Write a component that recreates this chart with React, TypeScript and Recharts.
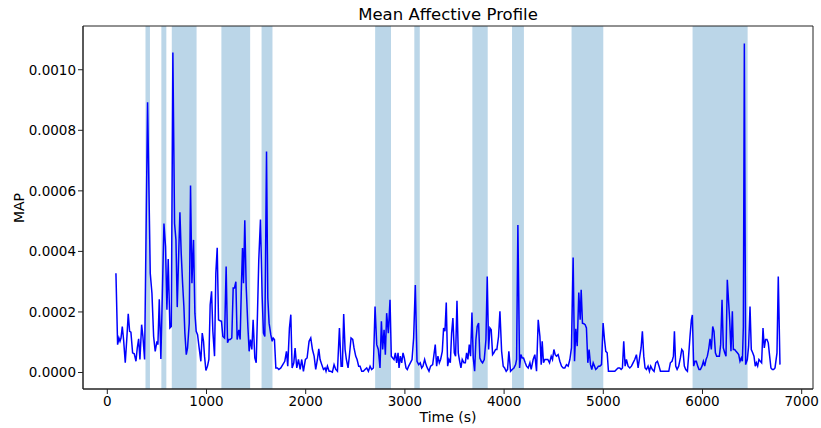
import { LineChart, Line, XAxis, YAxis, ReferenceArea } from 'recharts'

// shaded intervals [start, end] in seconds
const bands: [number, number][] = [
  [385, 430], [545, 595], [650, 900], [1150, 1440], [1555, 1665],
  [2700, 2860], [3095, 3150], [3680, 3835], [4080, 4200], [4680, 5000], [5900, 6455],
]

// [time (s), MAP x 1e-4]
const mapSamples: [number, number][] = [
  [87,3.28],[104,0.92],[117,1.14],[128,1.03],[138,1.14],[151,1.52],[164,1.09],[181,0.32],[198,1.19],[211,1.94],[225,1.36],[238,1.33],[255,0.65],[272,0.62],[289,0.37],[302,0.81],[316,1.11],[329,0.43],[346,1.58],[359,1.19],[376,0.43],[406,8.93],[433,3.28],[450,2.62],[467,1.19],[483,0.70],[500,1.03],[510,0.92],[524,2.42],[540,0.45],[571,4.92],[587,4.16],[601,2.07],[614,3.75],[631,1.47],[645,1.52],[661,10.57],[678,4.92],[692,4.38],[705,2.16],[718,3.72],[732,5.29],[745,3.94],[759,2.95],[772,2.18],[782,1.30],[796,0.59],[809,0.81],[826,1.63],[839,6.18],[853,2.95],[869,4.38],[883,1.96],[896,1.36],[910,1.25],[926,0.81],[943,0.37],[957,1.30],[970,1.03],[980,0.54],[994,0.07],[1010,0.21],[1024,0.43],[1037,2.24],[1051,2.68],[1064,1.36],[1081,0.54],[1094,3.28],[1108,4.12],[1121,1.74],[1138,1.71],[1151,1.69],[1165,1.19],[1182,1.14],[1198,3.50],[1212,0.98],[1225,1.09],[1239,1.09],[1255,1.14],[1269,2.79],[1282,2.79],[1296,3.0],[1309,1.09],[1326,1.41],[1339,1.09],[1353,3.0],[1363,4.11],[1373,2.95],[1386,5.03],[1400,2.84],[1417,1.52],[1430,0.70],[1443,1.09],[1457,0.76],[1470,1.74],[1487,0.48],[1501,0.32],[1514,1.96],[1527,3.72],[1544,5.05],[1561,2.51],[1574,1.30],[1588,1.19],[1605,7.30],[1618,2.46],[1631,1.63],[1648,1.25],[1662,1.03],[1672,1.14],[1685,1.09],[1699,0.15],[1715,0.15],[1729,0.10],[1749,0.15],[1769,0.26],[1789,0.37],[1806,0.70],[1819,0.21],[1836,1.47],[1850,1.91],[1863,0.15],[1880,0.32],[1893,0.81],[1910,0.15],[1927,0.43],[1944,0.10],[1960,0.43],[1977,0.04],[1997,0.43],[2014,0.48],[2034,1.03],[2051,1.14],[2068,0.76],[2085,0.54],[2101,0.10],[2118,0.43],[2132,0.78],[2145,0.43],[2162,0.26],[2179,0.10],[2195,0.15],[2205,0.04],[2219,0.21],[2236,0.04],[2252,0.04],[2269,0.01],[2286,0.26],[2303,0.10],[2320,0.04],
  [2340,1.47],[2357,0.21],[2370,0.21],[2383,1.93],[2397,0.76],[2410,0.43],[2427,0.15],[2440,0.54],[2457,1.14],[2474,1.09],[2487,0.81],[2504,0.54],[2518,0.43],[2534,0.21],[2548,0.21],[2565,0.04],[2581,0.04],[2598,0.10],[2615,0.15],[2632,0.04],[2649,0.21],[2665,0.10],[2682,0.15],[2699,2.18],[2716,0.92],[2732,0.76],[2749,0.15],[2763,1.69],[2776,0.76],[2790,1.41],[2803,0.59],[2816,1.96],[2833,1.30],[2850,2.40],[2863,0.54],[2877,0.48],[2890,0.43],[2904,0.65],[2917,0.32],[2931,0.65],[2941,0.15],[2954,0.54],[2968,0.32],[2981,0.65],[2994,0.48],[3011,0.15],[3024,0.10],[3038,0.21],[3055,0.32],[3072,0.43],[3088,1.14],[3105,2.89],[3122,0.37],[3139,0.26],[3155,0.32],[3169,0.15],[3182,0.21],[3199,0.43],[3213,0.26],[3226,0.15],[3243,0.04],[3259,0.21],[3280,0.26],[3293,0.59],[3306,0.92],[3320,0.21],[3333,0.54],[3347,0.32],[3360,0.43],[3377,0.70],[3390,1.47],[3404,1.36],[3417,2.31],[3431,0.21],[3444,0.43],[3458,0.32],[3471,1.30],[3484,1.80],[3498,0.65],[3511,0.54],[3525,2.37],[3538,0.65],[3552,0.37],[3565,0.15],[3578,0.43],[3595,0.32],[3609,0.32],[3622,0.65],[3635,0.43],[3649,0.92],[3662,0.54],[3676,1.98],[3689,0.48],[3703,0.04],[3716,1.09],[3729,1.52],[3743,1.63],[3756,0.48],[3770,0.37],[3783,0.32],[3800,0.43],[3817,1.09],[3830,3.17],[3844,0.76],[3857,1.47],[3870,1.41],[3884,0.59],[3897,0.65],[3914,0.76],[3927,0.76],[3944,1.19],[3958,2.02],[3975,0.70],[3991,0.21],[4005,0.15],[4021,0.04],[4035,0.10],[4048,0.70],[4065,0.04],[4082,0.10],[4099,0.15],[4116,0.26],[4126,0.43],[4139,4.87],[4156,0.15],[4169,0.59],[4183,0.48],[4196,0.48],[4213,0.32],[4226,0.21],[4243,0.15],[4260,0.32],[4273,0.10],[4293,0.43],[4310,0.59],[4327,0.04],[4344,1.74],[4361,1.19],[4374,0.26],[4384,1.03],[4397,0.32],[4411,0.43],[4424,0.43],[4441,0.43],[4458,0.32],[4475,0.54],[4488,0.43],[4502,0.76],[4515,0.59],[4528,0.54],[4545,0.59],[4562,0.37],[4579,0.21],[4596,0.15],[4612,0.15],[4629,0.26],[4646,0.21],[4663,0.43],[4679,0.81],
  [4696,3.80],[4710,0.37],[4723,1.44],[4737,0.87],[4753,2.64],[4767,1.74],[4777,2.73],[4790,1.63],[4804,1.61],[4817,1.58],[4830,1.47],[4844,0.32],[4857,0.76],[4871,0.26],[4884,0.10],[4898,0.32],[4911,0.21],[4924,0.10],[4938,0.15],[4951,0.21],[4965,0.21],[4982,0.26],[4998,1.63],[5012,1.09],[5025,0.70],[5039,0.65],[5052,0.04],[5065,0.04],[5082,0.04],[5099,0.04],[5116,0.04],[5133,0.10],[5149,0.15],[5166,0.15],[5180,0.10],[5193,0.15],[5206,1.03],[5220,0.21],[5233,0.43],[5250,0.21],[5267,0.15],[5284,0.21],[5300,0.32],[5317,0.43],[5334,0.59],[5351,0.15],[5368,0.54],[5381,0.81],[5394,1.36],[5408,0.54],[5421,0.15],[5435,0.10],[5451,0.21],[5465,0.04],[5478,0.21],[5495,0.10],[5512,0.04],[5529,0.32],[5546,0.37],[5562,0.21],[5576,0.04],[5592,0.04],[5609,0.04],[5626,0.04],[5643,0.04],[5660,0.04],[5676,0.32],[5693,0.37],[5707,0.54],[5717,1.36],[5730,0.21],[5744,0.10],[5760,0.21],[5777,0.48],[5791,0.76],[5804,0.70],[5817,0.21],[5831,0.10],[5848,0.04],[5861,0.59],[5874,1.19],[5888,1.74],[5898,1.90],[5911,0.21],[5925,0.37],[5938,0.37],[5952,0.21],[5965,0.10],[5979,0.10],[5995,0.21],[6009,0.37],[6022,0.21],[6036,0.43],[6049,0.54],[6062,0.76],[6076,1.11],[6089,0.76],[6103,1.52],[6116,1.36],[6130,0.65],[6143,0.54],[6156,0.54],[6170,0.54],[6183,0.92],[6197,2.40],[6210,0.81],[6224,0.65],[6237,0.54],[6250,3.06],[6264,2.29],[6274,1.74],[6287,0.70],[6301,2.02],[6311,0.76],[6324,0.76],[6338,0.70],[6351,0.65],[6365,0.59],[6378,0.37],[6391,0.48],[6402,0.37],[6412,1.52],[6422,10.87],[6435,0.26],[6452,0.43],[6465,0.87],[6479,2.18],[6492,0.76],[6506,0.65],[6519,0.54],[6532,0.21],[6543,0.32],[6556,0.21],[6569,0.43],[6583,0.37],[6596,0.32],[6610,1.47],[6623,0.81],[6636,1.09],[6650,1.09],[6663,0.98],[6677,0.54],[6690,0.15],[6704,0.10],[6717,0.10],[6731,0.15],[6751,0.65],[6764,3.17],[6781,0.26],
]

const xTicks = [0, 1000, 2000, 3000, 4000, 5000, 6000, 7000]
const yTicks = [0, 0.0002, 0.0004, 0.0006, 0.0008, 0.001]
const xDomain: [number, number] = [-245, 7114]
const yDomain: [number, number] = [-0.0000545, 0.0011445]

const data = mapSamples.map(([t, v]) => ({ time: t, map: v * 1e-4 }))

const font = '"DejaVu Sans", sans-serif'
const tickStyle = { fontSize: 13.5, fill: '#000', fontFamily: font }

export default function App() {
  return (
    <div style={{ position: 'absolute', left: 0, top: 0, width: 821, height: 428, background: '#fff', fontFamily: font }}>
      <LineChart
        width={821}
        height={428}
        data={data}
        margin={{ top: 26, right: 8, bottom: 9, left: 13 }}
      >
        <XAxis
          dataKey="time"
          type="number"
          domain={xDomain}
          allowDataOverflow
          ticks={xTicks}
          tick={tickStyle}
          tickSize={5}
          height={30}
          stroke="#222"
          interval={0}
        />
        <YAxis
          type="number"
          domain={yDomain}
          allowDataOverflow
          ticks={yTicks}
          tickFormatter={(v: number) => v.toFixed(4)}
          tick={tickStyle}
          tickSize={5}
          width={70}
          stroke="#222"
          interval={0}
        />
        {bands.map(([a, b]) => (
          <ReferenceArea key={a} x1={a} x2={b} fill="#1f77b4" fillOpacity={0.3} stroke="none" />
        ))}
        <Line
          type="linear"
          dataKey="map"
          stroke="#0000ff"
          strokeWidth={1.5}
          dot={false}
          isAnimationActive={false}
        />
        {/* frame around the plot, like matplotlib's spines */}
        <ReferenceArea
          x1={xDomain[0]}
          x2={xDomain[1]}
          y1={yDomain[0]}
          y2={yDomain[1]}
          fill="none"
          stroke="#222"
          strokeWidth={1}
        />
      </LineChart>
      <div style={{ position: 'absolute', left: 83, width: 730, top: 5, textAlign: 'center', fontSize: 16.5, color: '#000' }}>
        Mean Affective Profile
      </div>
      <div style={{ position: 'absolute', left: 83, width: 730, top: 409, textAlign: 'center', fontSize: 14, color: '#000' }}>
        Time (s)
      </div>
      <div style={{ position: 'absolute', left: 19, top: 208, transform: 'translate(-50%, -50%) rotate(-90deg)', fontSize: 14, color: '#000' }}>
        MAP
      </div>
    </div>
  )
}
